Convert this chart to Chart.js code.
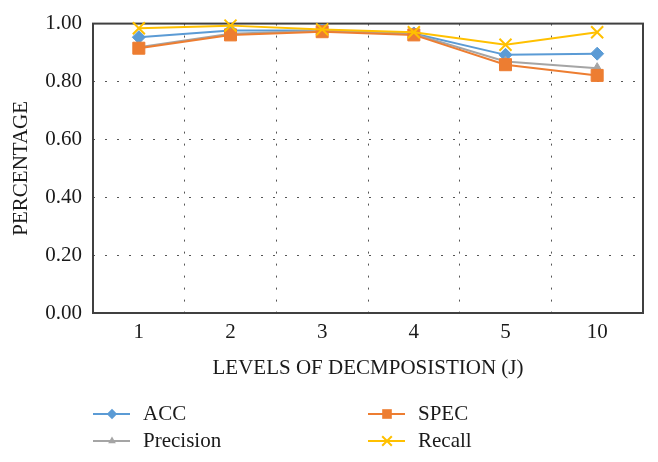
<!DOCTYPE html>
<html>
<head>
<meta charset="utf-8">
<script src="https://cdn.jsdelivr.net/npm/chart.js@4/dist/chart.umd.min.js"></script>
<style>
  body { margin: 0; background: #fff; }
  #wrap { width: 658px; height: 462px; }
</style>
</head>
<body>
<div id="wrap"><canvas id="grafico" width="658" height="462"></canvas></div>
<script>
const levels = ["1", "2", "3", "4", "5", "10"];
const acc = [0.953, 0.976, 0.976, 0.966, 0.892, 0.896];
const spec = [0.915, 0.961, 0.972, 0.961, 0.858, 0.821];
const precision = [0.918, 0.965, 0.975, 0.964, 0.869, 0.846];
const recall = [0.984, 0.993, 0.980, 0.970, 0.927, 0.970];
const yTicks = [0, 0.2, 0.4, 0.6, 0.8, 1.0];

const FONT = "'Liberation Serif', 'DejaVu Serif', serif";
const TXT = "#1a1a1a";

// legend order: ACC, SPEC / Precision, Recall
const series = [
  { label: "ACC", data: acc, color: "#5b9bd5", style: "rectRot", r: 6.5, order: 4 },
  { label: "SPEC", data: spec, color: "#ed7d31", style: "rect", r: 8.5, order: 2 },
  { label: "Precision", data: precision, color: "#a5a5a5", style: "triangle", r: 5.5, order: 3 },
  { label: "Recall", data: recall, color: "#ffc000", style: "crossRot", r: 8.5, order: 1 }
];

function marker(ctx, style, x, y, r, color) {
  ctx.save();
  ctx.fillStyle = color;
  ctx.strokeStyle = color;
  ctx.lineWidth = 2;
  ctx.beginPath();
  if (style === "rect") {
    const s = r * Math.SQRT1_2;
    ctx.rect(x - s, y - s, 2 * s, 2 * s);
    ctx.fill();
  } else if (style === "rectRot") {
    ctx.moveTo(x, y - r); ctx.lineTo(x + r, y); ctx.lineTo(x, y + r); ctx.lineTo(x - r, y);
    ctx.closePath(); ctx.fill();
  } else if (style === "triangle") {
    ctx.moveTo(x, y - r); ctx.lineTo(x + r * 0.87, y + r * 0.5); ctx.lineTo(x - r * 0.87, y + r * 0.5);
    ctx.closePath(); ctx.fill();
  } else {
    const s = r * Math.SQRT1_2;
    ctx.moveTo(x - s, y - s); ctx.lineTo(x + s, y + s);
    ctx.moveTo(x + s, y - s); ctx.lineTo(x - s, y + s);
    ctx.stroke();
  }
  ctx.restore();
}

const boxPlugin = {
  id: "box",
  beforeDatasetsDraw(chart) {
    const { ctx, chartArea: a } = chart;
    ctx.save();
    ctx.strokeStyle = "#404040";
    ctx.lineWidth = 2;
    ctx.strokeRect(a.left, a.top, a.right - a.left, a.bottom - a.top);
    ctx.restore();
  },
  afterDraw(chart) {
    const ctx = chart.ctx;
    const cols = [93, 368];
    const rows = [414, 441];
    series.forEach((s, i) => {
      const x = cols[i % 2];
      const y = rows[Math.floor(i / 2)];
      ctx.save();
      ctx.strokeStyle = s.color;
      ctx.lineWidth = 2;
      ctx.beginPath();
      ctx.moveTo(x, y);
      ctx.lineTo(x + 37, y);
      ctx.stroke();
      ctx.restore();
      marker(ctx, s.style, x + 19, y, s.r * 0.8, s.color);
      ctx.save();
      ctx.fillStyle = TXT;
      ctx.font = "21px " + FONT;
      ctx.textBaseline = "middle";
      ctx.fillText(s.label, x + 50, y);
      ctx.restore();
    });
  }
};

new Chart(document.getElementById("grafico"), {
  type: "line",
  data: {
    labels: levels,
    datasets: series.map(s => ({
      label: s.label,
      data: s.data,
      borderColor: s.color,
      backgroundColor: s.color,
      borderWidth: 2,
      pointStyle: s.style,
      pointRadius: s.r,
      pointBorderWidth: s.style === "crossRot" ? 2 : 1,
      order: s.order,
      clip: false,
      tension: 0
    }))
  },
  options: {
    responsive: false,
    animation: false,
    layout: { padding: { left: 5, right: 15, top: 22, bottom: 77 } },
    plugins: { legend: { display: false }, tooltip: { enabled: false } },
    scales: {
      x: {
        offset: true,
        grid: { offset: true, drawTicks: false, color: "#555", borderDash: [2, 10], lineWidth: 1 },
        border: { display: false, dash: [2, 10] },
        ticks: { color: TXT, font: { family: FONT, size: 21 }, padding: 7 },
        title: { display: true, text: "LEVELS OF DECMPOSISTION (J)", color: TXT, font: { family: FONT, size: 21 } },
        afterFit(scale) { scale.height = 72; }
      },
      y: {
        min: 0,
        max: 1,
        afterBuildTicks(scale) { scale.ticks = yTicks.map(v => ({ value: v })); },
        grid: {
          drawTicks: false,
          color: ctx => (ctx.tick && (ctx.tick.value === 0 || ctx.tick.value === 1)) ? "rgba(0,0,0,0)" : "#555",
          lineWidth: 1
        },
        border: { display: false, dash: [2, 10] },
        ticks: { color: TXT, font: { family: FONT, size: 21 }, padding: 11, callback: v => Number(v).toFixed(2) },
        title: { display: true, text: "PERCENTAGE", color: TXT, font: { family: FONT, size: 21 } },
        afterFit(scale) { scale.width = 88; }
      }
    }
  },
  plugins: [boxPlugin]
});
</script>
</body>
</html>
